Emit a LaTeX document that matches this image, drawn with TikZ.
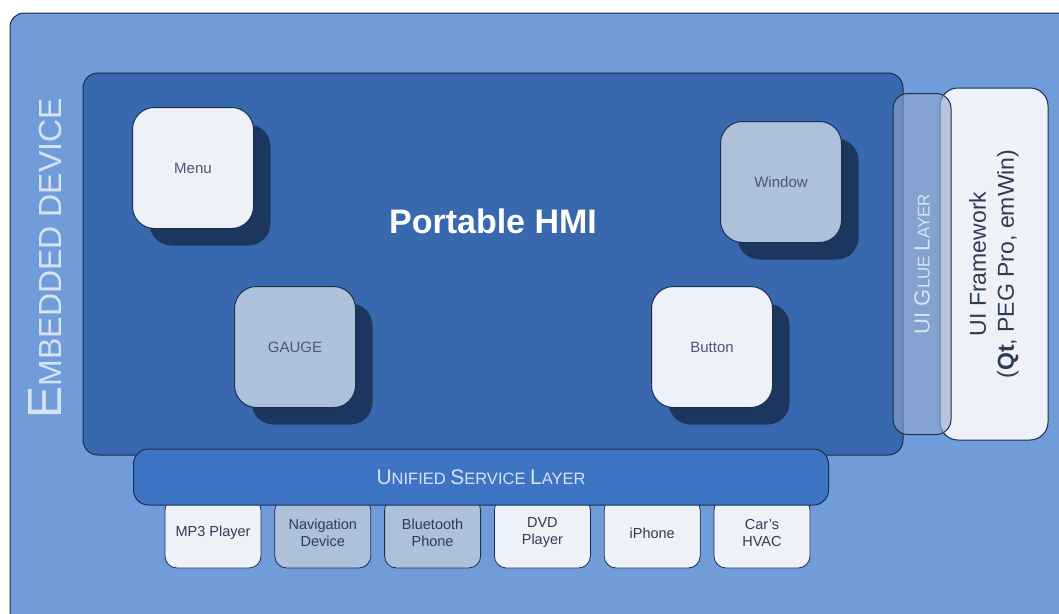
\documentclass[tikz,border=0pt]{standalone}
\usepackage{fontspec}
\setmainfont{Liberation Sans}
\usetikzlibrary{
positioning,
shadows
}
\definecolor{panelblue}{HTML}{719CDA}
\definecolor{hmiblue}{HTML}{3868AE}
\definecolor{layerblue}{HTML}{3E74C4}
\definecolor{widgetlight}{HTML}{EEF2F8}
\definecolor{widgetgrey}{HTML}{ADC1DB}
\definecolor{shadowblue}{HTML}{1C365F}
\definecolor{edgedark}{HTML}{1B2E4E}
\definecolor{widgettext}{HTML}{4A5875}
\definecolor{devtext}{HTML}{2E3B55}
\definecolor{labellight}{HTML}{D6E3F5}
\definecolor{gluegrey}{HTML}{8FA7C8}
\newcommand{\fsz}[1]{\fontsize{#1}{#1}\selectfont}

\begin{document}
\begin{tikzpicture}[
x=1pt, y=-1pt,
node distance=13pt,
widget/.style={
rectangle,
rounded corners=22pt,
draw=edgedark,
line width=1pt,
minimum width=121pt,
minimum height=121pt,
text=widgettext,
font=\fsz{15},
drop shadow={shadow xshift=17pt, shadow yshift=-17pt, fill=shadowblue, opacity=1}
},
lightbox/.style={fill=widgetlight},
greybox/.style={fill=widgetgrey},
device/.style={
rectangle,
rounded corners=12pt,
draw=edgedark,
line width=0.8pt,
minimum width=96pt,
minimum height=70pt,
text=devtext,
font={\fontsize{14.5}{17}\selectfont},
align=center
},
layer/.style={
rectangle,
rounded corners=15pt,
draw=edgedark,
line width=1pt
}
]

\clip (0,0) rectangle (1059,613);
\fill[white] (0,0) rectangle (1059,613);

% embedded device panel
\draw[fill=panelblue, draw=edgedark, line width=1pt, rounded corners=14pt] (10,13) rectangle (1080,640);
\node[rotate=90, text=labellight] (devlabel) at (45,258)
{{\fsz{48}E}{\fsz{32}MBEDDED DEVICE}};

% portable HMI
\node[layer, fill=hmiblue, minimum width=820pt, minimum height=382pt] (hmi) at (493,264) {};
\node[text=white, font=\bfseries\fsz{34}] (title) at (493,221) {Portable HMI};

\node[widget, lightbox] (menu) at (193,168) {Menu};
\node[widget, greybox] (window) at (781,182) {Window};
\node[widget, greybox] (gauge) at (295,347) {GAUGE};
\node[widget, lightbox] (button) at (712,347) {Button};

% framework and glue layer
\node[layer, rotate=90, fill=widgetlight, rounded corners=18pt, minimum width=352pt, minimum height=108pt,
text=devtext, font={\fontsize{23}{28}\selectfont}, align=center] (framework) at (994,264)
{UI Framework\\(\textbf{Qt}, PEG Pro, emWin)};
\node[layer, rotate=90, fill=gluegrey, fill opacity=0.6, text opacity=1, minimum width=341pt, minimum height=58pt,
text=labellight] (glue) at (922,264)
{{\fsz{22}UI G}{\fsz{17}LUE }{\fsz{22}L}{\fsz{17}AYER}};

% services
\node[device, lightbox] (mp3) at (213,533) {MP3 Player};
\node[device, greybox, right=of mp3] (nav) {Navigation\\Device};
\node[device, greybox, right=of nav] (bluetooth) {Bluetooth\\Phone};
\node[device, lightbox, right=of bluetooth] (dvd) {DVD\\Player};
\node[device, lightbox, right=of dvd] (iphone) {iPhone};
\node[device, lightbox, right=of iphone] (hvac) {Car's\\HVAC};

\node[layer, fill=layerblue, minimum width=695pt, minimum height=56pt, text=labellight] (service) at (481,477)
{{\fsz{21}U}{\fsz{16.5}NIFIED }{\fsz{21}S}{\fsz{16.5}ERVICE }{\fsz{21}L}{\fsz{16.5}AYER}};

\end{tikzpicture}
\end{document}
